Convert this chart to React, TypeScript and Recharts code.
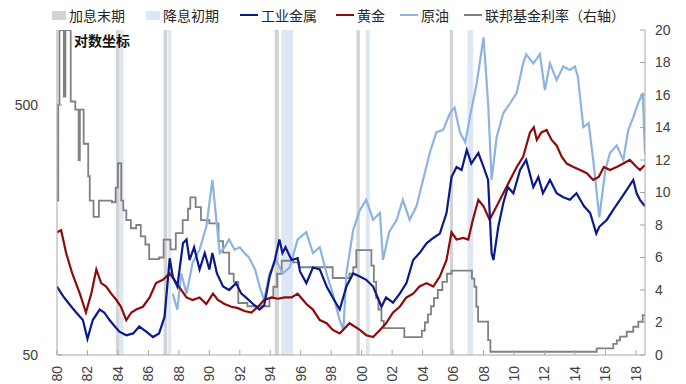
import { LineChart, Line, XAxis, YAxis, ReferenceArea } from "recharts";

const YEAR_TICKS = [1980, 1982, 1984, 1986, 1988, 1990, 1992, 1994, 1996, 1998, 2000, 2002, 2004, 2006, 2008, 2010, 2012, 2014, 2016, 2018];
const LEFT_TICKS = [50, 500];
const RIGHT_TICKS = [0, 2, 4, 6, 8, 10, 12, 14, 16, 18, 20];

// 加息末期 / 降息初期 shaded periods
const hikeEnd = [[1983.88, 1984.11], [1987.0, 1987.24], [1994.29, 1994.57], [1999.66, 1999.88], [2005.79, 2006.0]];
const cutStart = [[1984.11, 1984.37], [1987.3, 1987.5], [1994.73, 1995.5], [2000.27, 2000.53], [2006.95, 2007.32]];

// 工业金属
const metalT = [1980.0, 1980.4, 1980.8, 1981.26, 1981.7, 1982.0, 1982.35, 1982.8, 1983.1, 1983.45, 1983.8, 1984.1, 1984.55, 1985.0, 1985.4, 1985.86, 1986.3, 1986.7, 1987.06, 1987.4, 1987.6, 1987.9, 1988.27, 1988.5, 1988.7, 1989.0, 1989.36, 1989.7, 1990.0, 1990.2, 1990.5, 1990.9, 1991.3, 1991.75, 1992.1, 1992.4, 1992.87, 1993.3, 1993.6, 1993.96, 1994.3, 1994.6, 1994.8, 1995.0, 1995.4, 1995.8, 1995.95, 1996.37, 1996.8, 1997.25, 1997.7, 1998.1, 1998.56, 1999.0, 1999.44, 1999.88, 2000.3, 2000.75, 2001.3, 2001.6, 2002.06, 2002.5, 2002.94, 2003.38, 2003.8, 2004.26, 2004.7, 2005.13, 2005.57, 2005.9, 2006.23, 2006.56, 2006.9, 2007.2, 2007.66, 2008.0, 2008.3, 2008.53, 2008.65, 2008.97, 2009.3, 2009.6, 2009.96, 2010.4, 2010.8, 2011.27, 2011.6, 2011.9, 2012.36, 2012.8, 2013.23, 2013.67, 2014.1, 2014.6, 2015.0, 2015.4, 2015.6, 2016.1, 2016.5, 2016.96, 2017.4, 2017.83, 2018.05, 2018.27, 2018.6];
const metalV = [94, 86, 80, 74, 69, 58, 69, 76, 74, 69, 65, 62, 60, 61, 65, 62, 59, 61, 71, 122, 103, 94, 140, 145, 120, 135, 110, 128, 110, 128, 106, 94, 91, 97, 88, 85, 80, 76, 79, 103, 120, 145, 128, 135, 120, 122, 108, 97, 112, 110, 94, 85, 76, 94, 106, 103, 100, 94, 78, 85, 81, 88, 97, 120, 128, 140, 147, 153, 185, 258, 283, 275, 331, 292, 322, 283, 251, 128, 120, 163, 203, 235, 222, 275, 302, 235, 258, 222, 251, 222, 214, 209, 222, 197, 185, 153, 163, 174, 190, 209, 229, 251, 222, 209, 197];

// 黄金
const goldT = [1980.0, 1980.27, 1980.6, 1981.0, 1981.5, 1981.9, 1982.25, 1982.58, 1982.9, 1983.23, 1983.56, 1983.9, 1984.2, 1984.55, 1984.88, 1985.2, 1985.64, 1986.08, 1986.5, 1986.95, 1987.4, 1987.7, 1988.0, 1988.5, 1988.9, 1989.36, 1989.8, 1990.24, 1990.56, 1991.0, 1991.44, 1991.88, 1992.3, 1992.76, 1993.2, 1993.6, 1994.07, 1994.5, 1994.95, 1995.4, 1995.8, 1996.37, 1996.8, 1997.25, 1997.7, 1998.1, 1998.56, 1999.2, 1999.88, 2000.3, 2000.75, 2001.2, 2001.6, 2002.06, 2002.5, 2002.94, 2003.38, 2003.8, 2004.26, 2004.7, 2005.13, 2005.57, 2005.9, 2006.23, 2006.67, 2007.0, 2007.3, 2007.66, 2008.0, 2008.4, 2008.86, 2009.3, 2009.74, 2010.18, 2010.6, 2011.05, 2011.3, 2011.5, 2011.8, 2012.14, 2012.47, 2012.8, 2013.13, 2013.46, 2013.9, 2014.34, 2014.78, 2015.2, 2015.56, 2015.9, 2016.3, 2016.74, 2017.18, 2017.6, 2018.05, 2018.27, 2018.6];
const goldV = [155, 158, 128, 106, 88, 74, 88, 110, 97, 94, 88, 83, 78, 69, 74, 76, 78, 85, 97, 100, 106, 100, 94, 85, 83, 85, 80, 88, 83, 80, 78, 77, 75, 74, 78, 83, 85, 84, 85, 85, 88, 80, 76, 69, 67, 63, 61, 67, 63, 60, 59, 63, 67, 74, 78, 85, 88, 94, 97, 94, 103, 120, 155, 145, 147, 145, 174, 209, 197, 174, 197, 222, 251, 283, 311, 389, 408, 363, 389, 398, 363, 345, 311, 292, 283, 275, 267, 251, 258, 283, 275, 283, 292, 302, 283, 275, 288];

// 原油
const oilT = [1987.6, 1987.9, 1988.16, 1988.5, 1988.9, 1989.36, 1989.8, 1990.2, 1990.46, 1990.68, 1991.0, 1991.3, 1991.66, 1992.0, 1992.3, 1992.6, 1993.0, 1993.3, 1993.6, 1993.96, 1994.4, 1994.8, 1995.27, 1995.8, 1996.37, 1996.8, 1997.25, 1997.7, 1998.1, 1998.56, 1998.8, 1999.0, 1999.44, 1999.88, 2000.3, 2000.75, 2001.2, 2001.4, 2001.8, 2002.3, 2002.7, 2003.15, 2003.6, 2004.03, 2004.47, 2004.9, 2005.35, 2005.8, 2006.1, 2006.45, 2006.8, 2007.1, 2007.55, 2008.0, 2008.3, 2008.53, 2008.86, 2009.3, 2009.74, 2010.18, 2010.6, 2010.8, 2011.27, 2011.7, 2012.03, 2012.36, 2012.8, 2013.23, 2013.67, 2014.0, 2014.2, 2014.55, 2014.9, 2015.2, 2015.6, 2016.0, 2016.3, 2016.74, 2017.18, 2017.5, 2017.83, 2018.15, 2018.45, 2018.6];
const oilV = [88, 76, 106, 88, 117, 132, 163, 251, 174, 128, 135, 145, 132, 135, 128, 123, 110, 94, 83, 106, 120, 106, 112, 145, 155, 128, 135, 106, 88, 69, 63, 106, 158, 190, 209, 174, 185, 120, 155, 174, 209, 174, 197, 251, 322, 389, 398, 465, 489, 389, 355, 447, 611, 935, 509, 251, 372, 465, 509, 560, 735, 800, 735, 800, 575, 735, 631, 714, 692, 714, 648, 408, 424, 302, 178, 275, 322, 345, 302, 398, 447, 509, 560, 320];

// 联邦基金利率（右轴）
const fedT = [1980.0, 1980.08, 1980.16, 1980.45, 1980.55, 1980.9, 1981.2, 1981.42, 1981.5, 1981.75, 1982.05, 1982.15, 1982.4, 1982.75, 1983.6, 1983.85, 1984.0, 1984.22, 1984.35, 1984.55, 1984.85, 1985.2, 1985.5, 1985.8, 1986.05, 1986.7, 1987.0, 1987.45, 1987.8, 1988.25, 1988.6, 1988.75, 1989.1, 1989.45, 1990.0, 1990.6, 1990.9, 1991.3, 1991.6, 1991.9, 1992.5, 1993.95, 1994.2, 1994.45, 1994.75, 1995.5, 1995.9, 1998.1, 1999.2, 1999.45, 1999.65, 2000.64, 2000.8, 2000.95, 2001.1, 2001.3, 2001.45, 2002.8, 2003.95, 2004.15, 2004.35, 2004.55, 2004.75, 2005.0, 2005.3, 2005.6, 2005.9, 2007.24, 2007.4, 2007.53, 2007.64, 2008.3, 2008.45, 2015.43, 2016.52, 2016.75, 2016.96, 2017.4, 2017.83, 2018.16, 2018.45, 2018.6];
const fedV = [9.5, 15.4, 20, 15.9, 20, 15.6, 15.1, 12.0, 15.1, 13.0, 11.0, 9.5, 8.5, 9.5, 9.4, 10.3, 11.8, 9.5, 8.9, 8.3, 7.8, 8.0, 7.3, 6.8, 5.9, 6.0, 7.1, 6.5, 7.5, 8.3, 9.0, 9.7, 9.1, 8.3, 8.1, 7.0, 6.3, 5.0, 4.5, 3.2, 3.0, 3.5, 4.2, 5.0, 5.8, 5.7, 5.4, 4.74, 5.0, 5.4, 6.46, 5.5, 4.5, 3.5, 2.8, 2.1, 1.66, 1.1, 1.5, 2.0, 2.5, 3.0, 3.5, 4.0, 4.5, 5.0, 5.19, 4.7, 4.2, 2.97, 2.05, 0.92, 0.2, 0.41, 0.68, 0.9, 1.13, 1.43, 1.74, 2.05, 2.46, 2.46];

const zip = (t: number[], v: number[]) => t.map((x, i) => ({ t: x, v: v[i] }));
const metalData = zip(metalT, metalV);
const goldData = zip(goldT, goldV);
const oilData = zip(oilT, oilV);
const fedData = zip(fedT, fedV);

const NAVY = "#0b1a8a";
const RED = "#8e0b0b";
const OIL = "#8db3e2";
const FED = "#808080";
const BAND_GRAY = "#d3d3d3";
const BAND_BLUE = "#dce7f3";
const AXIS = "#a6a6a6";
const FONT = "'Liberation Sans', Arial, sans-serif";
const CJK = "'Noto Sans CJK SC', sans-serif";

const YearTick = ({ x, y, payload }: any) => (
  <text
    x={x}
    y={y}
    transform={`rotate(-90 ${x} ${y})`}
    textAnchor="end"
    dominantBaseline="central"
    fontSize={14}
    fill="#404040"
    fontFamily={FONT}
  >
    {String(payload.value).slice(2)}
  </text>
);

const legendItems = [
  { label: "加息末期", color: BAND_GRAY, box: true, x: 52 },
  { label: "降息初期", color: BAND_BLUE, box: true, x: 146 },
  { label: "工业金属", color: NAVY, box: false, x: 240 },
  { label: "黄金", color: RED, box: false, x: 336 },
  { label: "原油", color: OIL, box: false, x: 400 },
  { label: "联邦基金利率（右轴）", color: FED, box: false, x: 464 },
];

export default function App() {
  return (
    <div style={{ position: "absolute", left: 0, top: 0, width: 686, height: 384, background: "#fff" }}>
      <LineChart width={686} height={384} margin={{ top: 30, right: 0, bottom: 0, left: 0 }}>
        <XAxis
          dataKey="t"
          type="number"
          domain={[1980, 2018.6]}
          allowDataOverflow
          ticks={YEAR_TICKS}
          height={29}
          stroke={AXIS}
          tickSize={-5}
          tickMargin={16}
          tick={<YearTick />}
          interval={0}
        />
        <YAxis
          yAxisId="l"
          scale="log"
          domain={[50, 1000]}
          allowDataOverflow
          ticks={LEFT_TICKS}
          width={57}
          stroke={AXIS}
          tickSize={-5}
          tickMargin={24}
          tick={{ fontSize: 14, fill: "#404040", fontFamily: FONT }}
        />
        <YAxis
          yAxisId="r"
          orientation="right"
          domain={[0, 20]}
          allowDataOverflow
          ticks={RIGHT_TICKS}
          interval={0}
          width={41}
          stroke={AXIS}
          tickSize={-5}
          tickMargin={15}
          tick={{ fontSize: 14, fill: "#404040", fontFamily: FONT }}
        />
        {hikeEnd.map(([a, b], i) => (
          <ReferenceArea key={"h" + i} yAxisId="l" x1={a} x2={b} fill={BAND_GRAY} fillOpacity={1} stroke="none" />
        ))}
        {cutStart.map(([a, b], i) => (
          <ReferenceArea key={"c" + i} yAxisId="l" x1={a} x2={b} fill={BAND_BLUE} fillOpacity={1} stroke="none" />
        ))}
        <Line yAxisId="r" data={fedData} dataKey="v" type="stepAfter" stroke={FED} strokeWidth={1.8} dot={false} isAnimationActive={false} />
        <Line yAxisId="l" data={oilData} dataKey="v" type="linear" stroke={OIL} strokeWidth={2.2} dot={false} isAnimationActive={false} />
        <Line yAxisId="l" data={goldData} dataKey="v" type="linear" stroke={RED} strokeWidth={2.2} dot={false} isAnimationActive={false} />
        <Line yAxisId="l" data={metalData} dataKey="v" type="linear" stroke={NAVY} strokeWidth={2.2} dot={false} isAnimationActive={false} />
      </LineChart>
      {legendItems.map((it) => (
        <div
          key={it.label}
          style={{ position: "absolute", left: it.x, top: 6, height: 18, display: "flex", alignItems: "center", fontFamily: CJK, fontSize: 14, color: "#262626", whiteSpace: "nowrap" }}
        >
          {it.box ? (
            <span style={{ display: "inline-block", width: 14, height: 9, background: it.color, marginRight: 3 }} />
          ) : (
            <span style={{ display: "inline-block", width: 18, height: 2, background: it.color, marginRight: 3 }} />
          )}
          <span>{it.label}</span>
        </div>
      ))}
      <div style={{ position: "absolute", left: 74, top: 30, fontFamily: CJK, fontSize: 14, fontWeight: 700, color: "#111" }}>对数坐标</div>
    </div>
  );
}
